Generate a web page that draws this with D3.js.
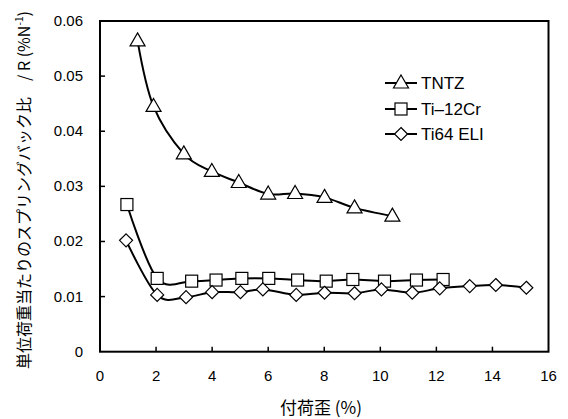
<!DOCTYPE html>
<html>
<head>
<meta charset="utf-8">
<script src="https://cdn.jsdelivr.net/npm/d3@7"></script>
<style>
  body { margin: 0; background: #fff; }
  text { font-family: "Liberation Sans", Arial, sans-serif; fill: #000; }
</style>
</head>
<body>
<svg id="chart" width="568" height="419"></svg>
<script>
// data
var tntzX = [1.34, 1.91, 2.99, 3.99, 4.95, 6.0, 6.96, 8.01, 9.08, 10.43];
var tntzY = [0.0564, 0.0445, 0.0359, 0.0327, 0.0307, 0.0286, 0.0287, 0.0280, 0.0261, 0.0246];

var crX = [0.96, 2.04, 3.27, 4.14, 5.06, 6.02, 7.05, 8.07, 9.02, 10.15, 11.29, 12.24];
var crY = [0.0267, 0.0133, 0.0128, 0.0130, 0.0133, 0.0133, 0.0130, 0.0128, 0.0131, 0.0128, 0.0130, 0.0131];

var eliX = [0.93, 2.04, 3.07, 4.0, 5.01, 5.81, 7.0, 8.01, 9.08, 10.04, 11.14, 12.12, 13.19, 14.12, 15.21];
var eliY = [0.0202, 0.0103, 0.0099, 0.0108, 0.0108, 0.0113, 0.0103, 0.0107, 0.0106, 0.0113, 0.0107, 0.0115, 0.0119, 0.0121, 0.0116];

var seriesNames = ["TNTZ", "Ti\u201312Cr", "Ti64 ELI"];
var xTicks = [0, 2, 4, 6, 8, 10, 12, 14, 16];
var yTicks = [0, 0.01, 0.02, 0.03, 0.04, 0.05, 0.06];

var svg = d3.select("#chart");
var mLeft = 100, mRight = 548.5, mTop = 21, mBottom = 351.7;

var x = d3.scaleLinear().domain([0, 16]).range([mLeft, mRight]);
var y = d3.scaleLinear().domain([0, 0.06]).range([mBottom, mTop]);

// frame
svg.append("rect")
    .attr("x", mLeft).attr("y", mTop)
    .attr("width", mRight - mLeft).attr("height", mBottom - mTop)
    .attr("fill", "none").attr("stroke", "#000").attr("stroke-width", 2);

// ticks (inside)
svg.append("g").selectAll("line")
    .data(xTicks.slice(1, -1))
    .enter().append("line")
    .attr("x1", d => x(d)).attr("x2", d => x(d))
    .attr("y1", mBottom).attr("y2", mBottom - 5)
    .attr("stroke", "#000").attr("stroke-width", 1.5);

svg.append("g").selectAll("line")
    .data(yTicks.slice(1, -1))
    .enter().append("line")
    .attr("x1", mLeft).attr("x2", mLeft + 5)
    .attr("y1", d => y(d)).attr("y2", d => y(d))
    .attr("stroke", "#000").attr("stroke-width", 1.5);

// tick labels
svg.append("g").selectAll("text")
    .data(xTicks)
    .enter().append("text")
    .attr("x", d => x(d)).attr("y", 381)
    .attr("text-anchor", "middle")
    .style("font-size", "15px")
    .text(d => d);

svg.append("g").selectAll("text")
    .data(yTicks)
    .enter().append("text")
    .attr("x", 83).attr("y", d => y(d) + 5)
    .attr("text-anchor", "end")
    .style("font-size", "15px")
    .text(d => d === 0 ? "0" : d3.format(".2f")(d));

// axis titles
svg.append("text")
    .attr("x", 321).attr("y", 414)
    .attr("text-anchor", "middle")
    .style("font-size", "17px")
    .style("font-family", "'Noto Sans CJK JP', sans-serif")
    .text("付荷歪 (%)");

var yt = svg.append("text")
    .attr("transform", "translate(30, 190) rotate(-90)")
    .attr("text-anchor", "middle")
    .style("font-size", "16px")
    .style("font-family", "'Noto Sans CJK JP', sans-serif");
yt.append("tspan").text("単位荷重当たりのスプリングバック比\u3000/ R (%N");
yt.append("tspan").attr("baseline-shift", "super").style("font-size", "10px").text("-1");
yt.append("tspan").text(")");

// lines
var line = d3.line()
    .x(d => x(d[0])).y(d => y(d[1]))
    .curve(d3.curveCardinal.tension(0));

var series = [
  { name: seriesNames[0], pts: d3.zip(tntzX, tntzY), shape: "tri" },
  { name: seriesNames[1], pts: d3.zip(crX, crY), shape: "sq" },
  { name: seriesNames[2], pts: d3.zip(eliX, eliY), shape: "dia" }
];

series.forEach(s => {
  svg.append("path")
      .attr("d", line(s.pts))
      .attr("fill", "none").attr("stroke", "#000").attr("stroke-width", 2);
});

function marker(g, shape, cx, cy) {
  if (shape === "tri") {
    g.append("path")
      .attr("d", "M" + cx + "," + (cy - 8) + "L" + (cx + 7.5) + "," + (cy + 5) + "L" + (cx - 7.5) + "," + (cy + 5) + "Z")
      .attr("fill", "#fff").attr("stroke", "#000").attr("stroke-width", 1.2);
  } else if (shape === "sq") {
    g.append("rect")
      .attr("x", cx - 6).attr("y", cy - 6).attr("width", 12).attr("height", 12)
      .attr("fill", "#fff").attr("stroke", "#000").attr("stroke-width", 1.2);
  } else {
    g.append("path")
      .attr("d", "M" + cx + "," + (cy - 6.5) + "L" + (cx + 6.5) + "," + cy + "L" + cx + "," + (cy + 6.5) + "L" + (cx - 6.5) + "," + cy + "Z")
      .attr("fill", "#fff").attr("stroke", "#000").attr("stroke-width", 1.2);
  }
}

series.forEach(s => {
  var g = svg.append("g");
  s.pts.forEach(p => marker(g, s.shape, x(p[0]), y(p[1])));
});

// legend
var legendY = [83, 109, 134];
series.forEach((s, i) => {
  var g = svg.append("g");
  g.append("line")
    .attr("x1", 385).attr("x2", 417)
    .attr("y1", legendY[i]).attr("y2", legendY[i])
    .attr("stroke", "#000").attr("stroke-width", 2);
  marker(g, s.shape, 401, legendY[i]);
  g.append("text")
    .attr("x", 421).attr("y", legendY[i] + 6)
    .style("font-size", "17px")
    .text(s.name);
});
</script>
</body>
</html>
